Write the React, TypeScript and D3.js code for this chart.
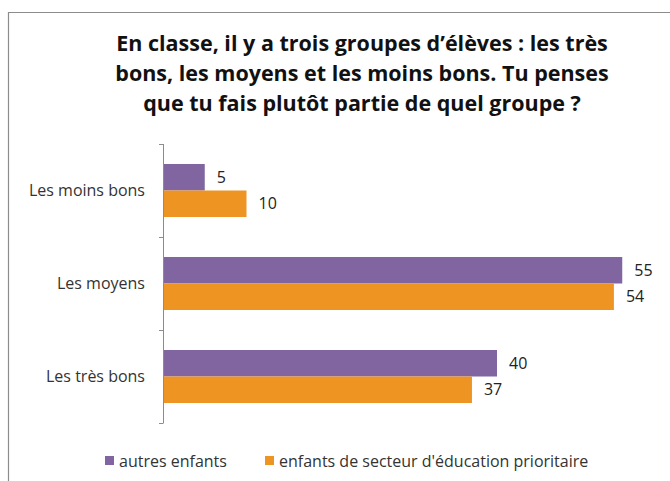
import React, { useRef, useEffect } from 'react';
import * as d3 from 'd3';

const categories = ['Les moins bons', 'Les moyens', 'Les très bons'];
const seriesNames = ['autres enfants', "enfants de secteur d'éducation prioritaire"];
const autresEnfants = [5, 55, 40];
const enfantsPrioritaire = [10, 54, 37];
const titleLines = [
  'En classe, il y a trois groupes d’élèves : les très',
  'bons, les moyens et les moins bons. Tu penses',
  'que tu fais plutôt partie de quel groupe ?',
];

const App: React.FC = () => {
  const width = 670;
  const height = 481;
  const svgRef = useRef<SVGSVGElement | null>(null);

  useEffect(() => {
    const svg = d3.select(svgRef.current);
    svg.selectAll('*').remove();

    const font = '"Open Sans", sans-serif';
    const colors = ['#8065a1', '#ee9423'];
    const seriesValues = [autresEnfants, enfantsPrioritaire];

    // frame
    svg.append('path')
      .attr('d', `M8.5,${height} V12.5 H${width}`)
      .attr('fill', 'none')
      .attr('stroke', '#8c8c8c')
      .attr('stroke-width', 1.2);

    // title
    svg.append('g')
      .selectAll('text')
      .data(titleLines)
      .enter()
      .append('text')
      .attr('x', 362)
      .attr('y', (d, i) => 51 + i * 30)
      .attr('text-anchor', 'middle')
      .attr('font-family', font)
      .attr('font-weight', 'bold')
      .attr('font-size', '21.5px')
      .attr('fill', '#111')
      .text(d => d);

    const x = d3.scaleLinear().domain([0, 60]).range([163, 664]);
    const y0 = d3.scaleBand<string>()
      .domain(categories)
      .range([144, 423])
      .paddingInner(0.43)
      .paddingOuter(0.215);
    const y1 = d3.scaleBand<string>()
      .domain(seriesNames)
      .range([0, y0.bandwidth()]);

    const data = categories.flatMap((c, i) =>
      seriesNames.map((s, j) => ({ cat: c, series: s, idx: j, value: seriesValues[j][i] }))
    );

    const g = svg.append('g');

    g.selectAll('rect.bar')
      .data(data)
      .enter()
      .append('rect')
      .attr('class', 'bar')
      .attr('x', x(0))
      .attr('y', d => (y0(d.cat) as number) + (y1(d.series) as number))
      .attr('width', d => x(d.value) - x(0))
      .attr('height', y1.bandwidth())
      .attr('fill', d => colors[d.idx]);

    g.selectAll('text.value')
      .data(data)
      .enter()
      .append('text')
      .attr('class', 'value')
      .attr('x', d => x(d.value) + 12)
      .attr('y', d => (y0(d.cat) as number) + (y1(d.series) as number) + y1.bandwidth() / 2)
      .attr('dy', '0.35em')
      .attr('font-family', font)
      .attr('font-size', '16px')
      .attr('fill', '#222')
      .text(d => d.value);

    // axis with boundary ticks
    const step = y0.step();
    const axisTop = 144;
    const ticks = d3.range(categories.length + 1).map(i => axisTop + i * step);
    g.append('line')
      .attr('x1', 163.5).attr('x2', 163.5)
      .attr('y1', axisTop).attr('y2', 423)
      .attr('stroke', '#8c8c8c');
    g.selectAll('line.tick')
      .data(ticks)
      .enter()
      .append('line')
      .attr('class', 'tick')
      .attr('x1', 159).attr('x2', 163.5)
      .attr('y1', d => Math.round(d) + 0.5).attr('y2', d => Math.round(d) + 0.5)
      .attr('stroke', '#8c8c8c');

    g.selectAll('text.cat')
      .data(categories)
      .enter()
      .append('text')
      .attr('class', 'cat')
      .attr('x', 145)
      .attr('y', d => (y0(d) as number) + y0.bandwidth() / 2)
      .attr('dy', '0.35em')
      .attr('text-anchor', 'end')
      .attr('font-family', font)
      .attr('font-size', '16px')
      .attr('fill', '#333')
      .text(d => d);

    // legend
    const legendX = [105, 265];
    const legend = svg.append('g');
    seriesNames.forEach((s, i) => {
      legend.append('rect')
        .attr('x', legendX[i])
        .attr('y', 456)
        .attr('width', 9)
        .attr('height', 9)
        .attr('fill', colors[i]);
      legend.append('text')
        .attr('x', legendX[i] + 14)
        .attr('y', 467)
        .attr('font-family', font)
        .attr('font-size', '16px')
        .attr('fill', '#333')
        .text(s);
    });
  }, []);

  return (
    <svg
      ref={svgRef}
      width={width}
      height={height}
      style={{ position: 'absolute', left: 0, top: 0, background: '#fff' }}
    />
  );
};

export default App;
